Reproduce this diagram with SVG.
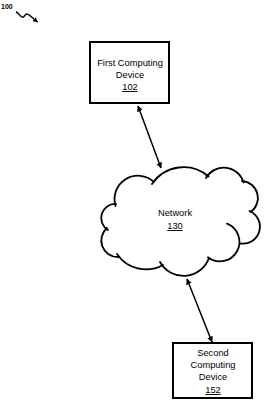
<svg xmlns="http://www.w3.org/2000/svg" width="264" height="400" viewBox="0 0 264 400">
<style>
.box{fill:#fff;stroke:#000;stroke-width:2}
.t{font-family:"Liberation Sans",Arial,sans-serif;font-size:9.3px;fill:#000;text-anchor:middle}
.u{text-decoration:underline}
.conn{stroke:#000;stroke-width:1.5;fill:none}
.cloud{stroke:#000;stroke-width:1.8;fill:none;stroke-linecap:round}
</style>
<defs>
<marker id="ah" viewBox="0 0 10 10" refX="9" refY="5" markerWidth="6" markerHeight="6" orient="auto-start-reverse" markerUnits="userSpaceOnUse">
<path d="M0,0 L10,5 L0,10 Z" fill="#000"/>
</marker>
<marker id="sq" viewBox="0 0 10 10" refX="9" refY="5" markerWidth="5" markerHeight="5" orient="auto" markerUnits="userSpaceOnUse">
<path d="M0,0 L10,5 L0,10 Z" fill="#000"/>
</marker>
</defs>
<g id="label100">
<text x="1" y="9" style="font-family:'Liberation Sans',Arial,sans-serif;font-size:7px;font-weight:bold">100</text>
<path class="conn" d="M16,11.7 C19,13 20.5,17.5 22.7,17.3 C24.5,17 25,14 26.7,14 C28.5,14 29.5,15 31,16.5 L37.5,22" marker-end="url(#sq)"/>
</g>
<g id="connectors">
<line class="conn" x1="138" y1="106" x2="161" y2="168" marker-start="url(#ah)" marker-end="url(#ah)"/>
<line class="conn" x1="187" y1="279" x2="212" y2="342" marker-start="url(#ah)" marker-end="url(#ah)"/>
</g>
<g id="node102">
<rect class="box" x="90" y="42" width="79" height="61"/>
<text class="t" x="130" y="66">First Computing</text>
<text class="t" x="130" y="78">Device</text>
<text class="t u" x="130" y="90">102</text>
</g>
<g id="node130">
<path class="cloud" d="M115.5,206 A23.5,23.5 0 0 1 154,182 M152,184 A38,38 0 0 1 208.5,176.5 M206,178 A20.5,20.5 0 0 1 243.5,182.5 M242,181 A17,17 0 0 1 250.5,212 M249.5,211 A17,17 0 0 1 240.5,243.5 M227,223.7 A19.5,19.5 0 1 1 208,257.3 M209,258 A27,27 0 0 1 160,262 M163,265 A35,35 0 0 1 117,254 M118,257 A16.5,16.5 0 0 1 107,228 M108,230 A14,14 0 0 1 116,204"/>
<text class="t" x="175" y="216">Network</text>
<text class="t u" x="175" y="229">130</text>
</g>
<g id="node152">
<rect class="box" x="173" y="343" width="79" height="55"/>
<text class="t" x="213" y="356">Second</text>
<text class="t" x="213" y="368">Computing</text>
<text class="t" x="213" y="380">Device</text>
<text class="t u" x="213" y="393">152</text>
</g>
</svg>
